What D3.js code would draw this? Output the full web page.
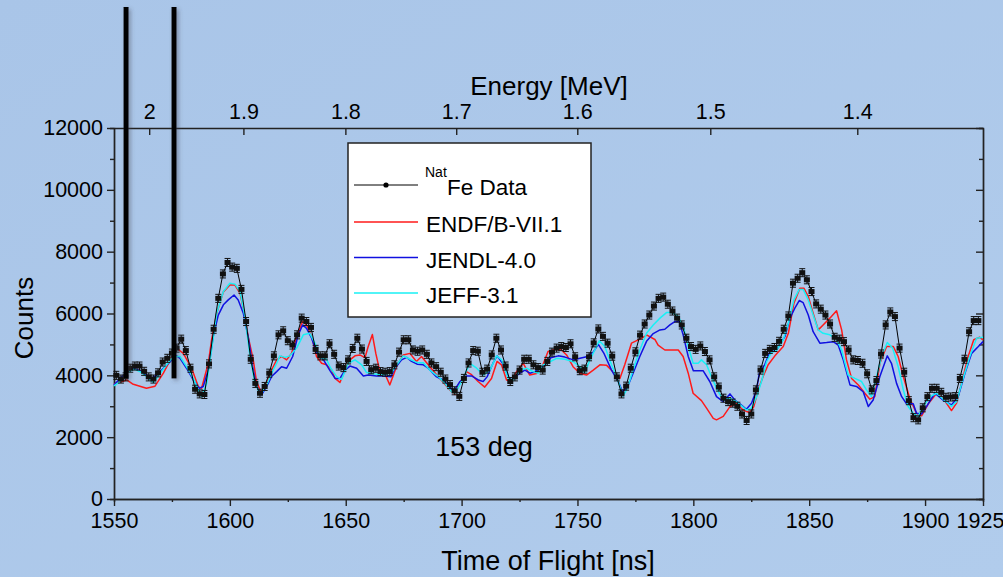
<!DOCTYPE html>
<html>
<head>
<meta charset="utf-8">
<script src="https://cdn.jsdelivr.net/npm/d3@7"></script>
<style>
body { margin: 0; }
svg text { font-family: "Liberation Sans", Arial, sans-serif; fill: #000; }
.axis path, .axis line { stroke: #222; stroke-width: 1.4px; }
.line { fill: none; stroke-width: 1.5px; stroke-linejoin: round; }
</style>
</head>
<body>
<svg width="1003" height="577"></svg>
<script>
// measured natFe counts, one bin every 2 ns starting at 1551 ns
var tofStart = 1551, tofStep = 2;
var feCounts = [
    4000, 3880, 3950, 4230, 4300, 4300, 4130, 3950, 3880, 4080,
    4430, 4550, 4720, 4880, 5170, 4800, 4230, 3550, 3400, 3380,
    4370, 5490, 6490, 7280, 7650, 7500, 7460, 6780, 5740, 4520,
    3740, 3420, 3640, 4070, 4630, 5310, 5440, 5120, 4980, 5310,
    5850, 5740, 5550, 4840, 4630, 4630, 5020, 4680, 4300, 4250,
    4500, 4870, 5200, 4850, 4450, 4180, 4230, 4120, 4100, 4120,
    4340, 4750, 5150, 5150, 4820, 4780, 4820, 4680, 4400, 4280,
    4100, 3880, 3700, 3500, 3320, 3900, 4400, 4800, 4780, 4100,
    4200, 4660, 5200, 4820, 4300, 3800, 3950, 4170, 4520, 4520,
    4340, 4250, 4170, 4450, 4750, 4880, 4930, 4900, 5020, 4600,
    4150, 4200, 4600, 5050, 5500, 5260, 5040, 4620, 3950, 3400,
    3650, 4230, 4760, 5300, 5660, 5950, 6240, 6490, 6530, 6300,
    6080, 5850, 5630, 5200, 4930, 4840, 4950, 4770, 4500, 3950,
    3620, 3260, 3150, 3100, 3000, 2750, 2540, 2750, 3530, 4170,
    4710, 4840, 4900, 5100, 5490, 5920, 6980, 7140, 7320, 7090,
    6710, 6310, 6140, 5950, 5660, 5230, 5170, 5090, 4820, 4500,
    4480, 4390, 4050, 3530, 3830, 4690, 5630, 6050, 5900, 4880,
    4100, 3180, 2630, 2560, 2950, 3310, 3580, 3580, 3450, 3290,
    3300, 3310, 3900, 4520, 5410, 5770, 5770
];
var feErr = 130;

// simulations, [time of flight ns, counts]
var endf = [[1550,3720],[1555.5,3850],[1558,3720],[1564,3580],[1567.7,3650],[1571.3,4070],[1577,4880],[1579.9,4710],[1583.5,4230],[1586.4,3630],[1587.8,3580],[1590.7,4390],[1592.1,5150],[1594.3,6000],[1597.2,6700],[1600,6920],[1602.2,6920],[1604.4,6650],[1606.5,5900],[1607.9,5250],[1610.1,4500],[1611.5,3800],[1613.7,3420],[1615.9,3750],[1618,4170],[1620.2,4500],[1622.3,4610],[1624.5,4500],[1626.6,4710],[1628.8,5250],[1631.4,5740],[1633.1,5630],[1635.3,5250],[1637.4,4610],[1639.6,4390],[1641.7,4340],[1643.9,4170],[1645.4,3900],[1647.5,3770],[1649.7,4170],[1651.8,4500],[1654,4630],[1656.1,4660],[1658.3,4570],[1659.7,4930],[1661.5,5320],[1663,4700],[1664.5,4200],[1666.9,4050],[1669,3690],[1671.9,4280],[1674.8,4660],[1677.7,4710],[1680.5,4450],[1682.7,4610],[1686.3,4280],[1690.6,3900],[1694.9,3530],[1697.1,3380],[1699.2,3740],[1702.1,4120],[1704.3,4020],[1707.1,3800],[1710,3620],[1712.9,3900],[1715.3,4450],[1717.2,4340],[1719.4,3850],[1721.5,3800],[1723.7,4120],[1726.6,4390],[1729.4,4010],[1732.3,4060],[1734.5,4230],[1737.3,4770],[1740.2,4840],[1743.1,4820],[1745.3,4660],[1748.1,4280],[1751,4070],[1753.9,4010],[1756.8,4170],[1759.7,4340],[1762.5,4330],[1766.1,4060],[1768.3,3900],[1770.4,4340],[1773.3,5040],[1776.9,5170],[1780,5300],[1783.4,5160],[1784.8,4980],[1787.7,4820],[1790.6,4820],[1793.5,4820],[1795.6,4610],[1797.8,4070],[1799.9,3420],[1803.5,3180],[1805.7,2940],[1808.6,2610],[1810,2560],[1812.9,2670],[1815.8,2990],[1818.6,3080],[1821.5,2880],[1824.4,2790],[1826.1,2990],[1828,3530],[1830.1,3960],[1832.3,4340],[1835.2,4630],[1838.8,4930],[1841,5360],[1843.4,6330],[1846,6820],[1847.7,6820],[1849.6,6550],[1851.7,6010],[1853.9,5470],[1856,5630],[1858.9,5850],[1861.8,6090],[1864,5470],[1866.1,4500],[1868.3,3900],[1871.2,3690],[1874,3420],[1876.2,3230],[1878.3,3310],[1880.5,4390],[1883.4,4930],[1886.3,4930],[1888.4,4610],[1890.6,3960],[1893.4,3260],[1896.3,2770],[1898.5,2690],[1901.4,3080],[1905,3420],[1907.8,3260],[1911.4,2860],[1913.6,3100],[1915.7,3740],[1918.6,4610],[1921,5150],[1923.6,5230],[1925,5150]];

var jendl = [[1550,3690],[1552.6,3900],[1555.5,4090],[1558.3,4230],[1561.2,4150],[1564.1,4010],[1566.2,3900],[1568.4,4010],[1571.3,4230],[1574.2,4440],[1577,4630],[1578.5,4550],[1581.3,4230],[1584.2,3850],[1586.8,3580],[1588.5,3640],[1590.7,4170],[1592.8,5250],[1595,5950],[1597.2,6280],[1599.3,6440],[1601.8,6600],[1603.6,6440],[1605.8,6010],[1608,5200],[1609.8,4280],[1611.5,3640],[1613.7,3370],[1615.9,3640],[1618,3960],[1620.2,4120],[1622.3,4280],[1624.5,4230],[1627.1,4610],[1629.5,5310],[1631.4,5630],[1633.1,5520],[1635.3,5200],[1637.4,4740],[1640.3,4520],[1643.2,4150],[1645.4,3900],[1647.5,3900],[1649.7,4170],[1651.8,4300],[1654.7,4230],[1657.6,3980],[1659.7,4010],[1663.3,3980],[1666.9,3980],[1669.5,3950],[1671.2,4230],[1674.1,4500],[1676.3,4580],[1678.4,4450],[1681,4360],[1683.5,4340],[1685.6,4230],[1689.2,3950],[1692.1,3850],[1695,3600],[1696.7,3500],[1699.3,3800],[1702.2,3980],[1704.3,3980],[1707.2,3850],[1709.3,3800],[1711,3950],[1713.6,4400],[1715.3,4630],[1717.6,4400],[1720.9,3820],[1723,3950],[1725.2,4070],[1727.3,4170],[1729.5,4070],[1731.6,4120],[1733.8,4230],[1736,4340],[1738.5,4570],[1741.7,4630],[1744.6,4590],[1748.2,4500],[1751.1,4550],[1753.9,4600],[1756.8,4750],[1759,5000],[1761.5,4700],[1764.7,4170],[1767.6,3800],[1769.5,3470],[1771.5,3610],[1774,4070],[1776.9,4610],[1779.8,5100],[1782.7,5350],[1785.6,5470],[1787.7,5490],[1789.9,5630],[1792,5740],[1793.9,5740],[1795.6,5310],[1797.8,4610],[1800,4150],[1804.2,4150],[1807.1,3800],[1810,3310],[1812.9,3150],[1815.8,3400],[1817.9,3200],[1820.1,3080],[1822.9,2900],[1825.1,3100],[1827.3,3530],[1828.4,4050],[1830.8,4340],[1833,4750],[1835.9,4820],[1839.5,5250],[1841.7,5850],[1843.8,6170],[1845.7,6420],[1847.4,6350],[1849.6,5950],[1851.7,5410],[1854.6,5040],[1857.5,5060],[1860.4,5090],[1862.5,4980],[1864.7,4500],[1867.6,3690],[1870.4,3640],[1873.3,3470],[1875.5,2990],[1877.6,3200],[1880.5,3960],[1883.7,4630],[1885.5,4390],[1887.7,3740],[1889.9,3310],[1892,3080],[1894.9,3080],[1896.3,2770],[1898.5,2750],[1900.6,2990],[1904.2,3420],[1907.8,3200],[1911.4,3040],[1914.3,3310],[1917.2,4070],[1920.1,4710],[1923,4930],[1925,5090]];

var jeff = [[1550,3660],[1552.6,3800],[1555.5,4070],[1558.6,4200],[1561.2,4120],[1564.1,3960],[1567,3770],[1569.8,4050],[1572.7,4340],[1575.6,4610],[1578.5,4610],[1581.3,4280],[1584.2,3900],[1586.4,3530],[1587.8,3310],[1590,3740],[1592.1,4820],[1594.3,6010],[1597.2,6710],[1600,6980],[1602.2,6950],[1604.4,6710],[1606.5,5900],[1608.7,4610],[1610.8,3740],[1613.3,3370],[1615.9,3690],[1618,4070],[1620.2,4390],[1621.6,4630],[1623.8,4580],[1625.9,4630],[1628.8,4880],[1631.7,5310],[1634.5,5360],[1636.7,5040],[1638.9,4580],[1641.7,4520],[1643.5,4230],[1646.1,3960],[1648.2,3870],[1651.1,4390],[1654,4500],[1656.9,4340],[1659,4090],[1661.9,4050],[1666.2,4010],[1669.8,4090],[1672,4340],[1674.8,4630],[1677.7,4520],[1680.9,4410],[1683.5,4410],[1686.3,4170],[1689.9,3960],[1692.8,3740],[1695.7,3470],[1697.1,3420],[1700,3800],[1703.6,4390],[1706.5,4230],[1709.3,4010],[1712.2,4170],[1715.1,4630],[1717.3,4500],[1720.1,3900],[1722.3,3850],[1725.2,4170],[1728,4230],[1730.9,4120],[1733.1,4070],[1735.2,4340],[1738.1,4440],[1741,4550],[1744.6,4520],[1748.2,4440],[1751.1,4280],[1753.2,4090],[1755.4,4500],[1759.4,5120],[1761.8,4930],[1764.7,4340],[1767.6,3800],[1769.7,3330],[1771.5,3580],[1774,4170],[1776.9,4820],[1779.8,5360],[1782.7,5630],[1785.6,5850],[1788.4,6030],[1791,6030],[1793.5,5900],[1795.6,5600],[1797.8,4930],[1799.9,4390],[1802.1,4390],[1803.5,4500],[1805.7,4340],[1807.8,3960],[1810,3580],[1812.9,3200],[1815.8,3260],[1818.6,3150],[1820.8,3010],[1822.9,2880],[1825.1,2940],[1827.3,3310],[1829.4,3800],[1831.6,4440],[1833.7,4740],[1835.9,4820],[1838.8,5150],[1841,5680],[1843.4,6440],[1845.7,6780],[1847.4,6780],[1849.6,6440],[1851.7,5950],[1853.9,5470],[1856,5360],[1858.9,5310],[1861.8,5170],[1864,4820],[1866.8,4010],[1869.7,3900],[1872.6,3800],[1874.7,3530],[1876.9,3310],[1879.1,3960],[1881.2,4610],[1883.7,5060],[1886,4880],[1888.4,4280],[1890.6,3530],[1892.7,2990],[1894.9,2770],[1897,2670],[1899.2,2990],[1902.1,3310],[1905,3420],[1907.8,3230],[1911.4,2990],[1913.6,3150],[1916.4,3900],[1919.3,4610],[1922.2,5200],[1925,5230]];

var tofTicks = [1550, 1600, 1650, 1700, 1750, 1800, 1850, 1900, 1925];
var countTicks = [0, 2000, 4000, 6000, 8000, 10000, 12000];
var energyTicks = [2, 1.9, 1.8, 1.7, 1.6, 1.5, 1.4];
var flightConst = 2213.5;          // t[ns] = flightConst / sqrt(E[MeV])
var cutMarks = [1555.2, 1575.9];   // hand drawn cut lines
var cutBottom = 3900;

var series = [
    {name: "ENDF/B-VII.1", data: endf, color: "#ff1a1a"},
    {name: "JENDL-4.0", data: jendl, color: "#1010e0"},
    {name: "JEFF-3.1", data: jeff, color: "#19f0f5"}
];

var svg = d3.select("svg"),
    margin = {top: 128, right: 20, bottom: 78, left: 114},
    width = +svg.attr("width") - margin.left - margin.right,
    height = +svg.attr("height") - margin.top - margin.bottom;

var defs = svg.append("defs");
var grad = defs.append("linearGradient").attr("id", "bg")
    .attr("x1", "0%").attr("y1", "0%").attr("x2", "100%").attr("y2", "100%");
grad.append("stop").attr("offset", "0%").attr("stop-color", "#a9c5e8");
grad.append("stop").attr("offset", "100%").attr("stop-color", "#b1ccec");

var shadow = defs.append("filter").attr("id", "shadow")
    .attr("x", "-50%").attr("y", "-5%").attr("width", "300%").attr("height", "110%");
shadow.append("feDropShadow").attr("dx", 2).attr("dy", 2)
    .attr("stdDeviation", 2).attr("flood-color", "#445").attr("flood-opacity", 0.45);

svg.append("rect").attr("width", 1003).attr("height", 577).attr("fill", "url(#bg)");

var x = d3.scaleLinear().domain([1550, 1925]).range([0, width]),
    y = d3.scaleLinear().domain([0, 12000]).range([height, 0]);

var eTop = d3.scalePow().exponent(-0.5)
    .domain([Math.pow(flightConst / 1550, 2), Math.pow(flightConst / 1925, 2)])
    .range([0, width]);

var g = svg.append("g")
    .attr("transform", "translate(" + margin.left + "," + margin.top + ")");

function styleAxis(sel) {
    sel.selectAll("text").attr("font-size", "21.5px").attr("font-family", null).attr("fill", "#000");
}

// bottom axis, major + minor ticks
g.append("g").attr("class", "axis")
    .attr("transform", "translate(0," + height + ")")
    .call(d3.axisBottom(x).tickValues(d3.range(1575, 1925, 50)).tickSize(3).tickFormat(""));
var bottomAxis = g.append("g").attr("class", "axis")
    .attr("transform", "translate(0," + height + ")")
    .call(d3.axisBottom(x).tickValues(tofTicks).tickSize(7).tickSizeOuter(0).tickPadding(7).tickFormat(d3.format("d")))
    .call(styleAxis);
// last label sits on the window edge
bottomAxis.selectAll("text").filter(function (d) { return d === 1925; }).attr("dx", "-3");

// left axis
g.append("g").attr("class", "axis")
    .call(d3.axisLeft(y).tickValues(d3.range(1000, 12000, 2000)).tickSize(4).tickFormat(""));
g.append("g").attr("class", "axis")
    .call(d3.axisLeft(y).tickValues(countTicks).tickSize(7).tickSizeOuter(0).tickPadding(4).tickFormat(d3.format("d")))
    .call(styleAxis);

// right axis, ticks inside
g.append("g").attr("class", "axis")
    .attr("transform", "translate(" + width + ",0)")
    .call(d3.axisRight(y).tickValues(d3.range(1000, 12000, 2000)).tickSize(-4).tickFormat(""));
g.append("g").attr("class", "axis")
    .attr("transform", "translate(" + width + ",0)")
    .call(d3.axisRight(y).tickValues(countTicks).tickSize(-7).tickSizeOuter(0).tickFormat(""));

// top energy axis
g.append("g").attr("class", "axis")
    .call(d3.axisTop(eTop).tickValues(energyTicks).tickSize(-7).tickSizeOuter(0).tickPadding(9)
        .tickFormat(function (d) { return String(d); }))
    .call(styleAxis);

// axis titles
svg.append("text").attr("x", 548).attr("y", 570).attr("text-anchor", "middle")
    .attr("font-size", "27px").text("Time of Flight [ns]");
svg.append("text").attr("x", 549).attr("y", 95).attr("text-anchor", "middle")
    .attr("font-size", "26px").text("Energy [MeV]");
svg.append("text").attr("transform", "translate(33,318) rotate(-90)").attr("text-anchor", "middle")
    .attr("font-size", "26px").text("Counts");
svg.append("text").attr("x", 484).attr("y", 456).attr("text-anchor", "middle")
    .attr("font-size", "27px").text("153 deg");

// simulation curves
var line = d3.line()
    .x(function (d) { return x(d[0]); })
    .y(function (d) { return y(d[1]); });

series.forEach(function (s) {
    g.append("path").datum(s.data)
        .attr("class", "line")
        .attr("stroke", s.color)
        .attr("d", line);
});

// measured data with error bars
var fe = feCounts.map(function (v, i) { return {t: tofStart + i * tofStep, v: v}; });

g.append("path").datum(fe)
    .attr("fill", "none").attr("stroke", "#000").attr("stroke-width", 1)
    .attr("d", d3.line().x(function (d) { return x(d.t); }).y(function (d) { return y(d.v); }));

var pts = g.append("g").selectAll("g").data(fe).enter().append("g")
    .attr("transform", function (d) { return "translate(" + x(d.t) + "," + y(d.v) + ")"; });
pts.append("path")
    .attr("stroke", "#111").attr("stroke-width", 1).attr("fill", "none")
    .attr("d", function (d) {
        var e = y(d.v - feErr) - y(d.v);
        return "M0," + (-e) + "V" + e + "M-3," + (-e) + "H3M-3," + e + "H3";
    });
pts.append("rect").attr("x", -3).attr("y", -2.5).attr("width", 6).attr("height", 5).attr("fill", "#111");

// thick cut lines
svg.append("g").selectAll("rect").data(cutMarks).enter().append("rect")
    .attr("x", function (d) { return margin.left + x(d) - 2.5; })
    .attr("y", 7)
    .attr("width", 5)
    .attr("height", function () { return margin.top + y(cutBottom) - 7; })
    .attr("fill", "#000")
    .attr("filter", "url(#shadow)");

// legend
var leg = svg.append("g").attr("transform", "translate(348,143)");
leg.append("rect").attr("width", 243).attr("height", 174)
    .attr("fill", "#fff").attr("stroke", "#222").attr("stroke-width", 1.5);
leg.append("line").attr("x1", 6).attr("x2", 70).attr("y1", 42).attr("y2", 42)
    .attr("stroke", "#000").attr("stroke-width", 1);
leg.append("circle").attr("cx", 38).attr("cy", 42).attr("r", 2.6).attr("fill", "#000");
leg.append("text").attr("x", 77).attr("y", 34).attr("font-size", "14px").text("Nat");
leg.append("text").attr("x", 99).attr("y", 52).attr("font-size", "22.5px").text("Fe Data");
series.forEach(function (s, i) {
    var ly = 79 + i * 35.5;
    leg.append("line").attr("x1", 6).attr("x2", 70).attr("y1", ly).attr("y2", ly)
        .attr("stroke", s.color).attr("stroke-width", 1.6);
    leg.append("text").attr("x", 78).attr("y", ly + 10).attr("font-size", "22.5px").text(s.name);
});
</script>
</body>
</html>
